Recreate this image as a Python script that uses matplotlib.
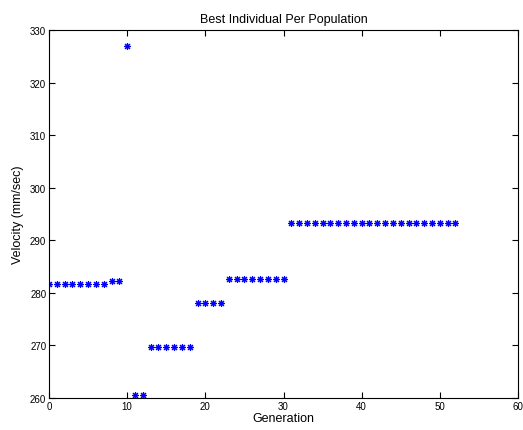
import matplotlib
matplotlib.use("Agg")
import matplotlib.pyplot as plt

generations = list(range(0, 53))
velocity = ([281.6] * 8 + [282.2] * 2 + [327.0] + [260.5] * 2 + [269.7] * 6 +
            [278.0] * 4 + [282.6] * 8 + [293.2] * 22)

plt.rcParams['font.family'] = ['Liberation Sans', 'DejaVu Sans']
fig = plt.figure(figsize=(5.23, 4.31), dpi=100)
ax = fig.add_axes([49/523, 32/431, 469/523, 368/431])
ax.plot(generations, velocity, linestyle='none', marker=(8, 2, 0), color='blue',
        markersize=5.0, markeredgewidth=0.8)
ax.set_xlim(0, 60)
ax.set_ylim(260, 330)
ax.set_xticks(range(0, 61, 10))
ax.set_yticks(range(260, 331, 10))
ax.tick_params(direction='in', top=True, right=True, labelsize=7, length=4, pad=2)
ax.set_title('Best Individual Per Population', fontsize=9, pad=6)
ax.set_xlabel('Generation', fontsize=9, labelpad=1)
ax.set_ylabel('Velocity (mm/sec)', fontsize=9, labelpad=4)
for s in ax.spines.values():
    s.set_linewidth(0.8)
fig.savefig('out.png', dpi=100)
